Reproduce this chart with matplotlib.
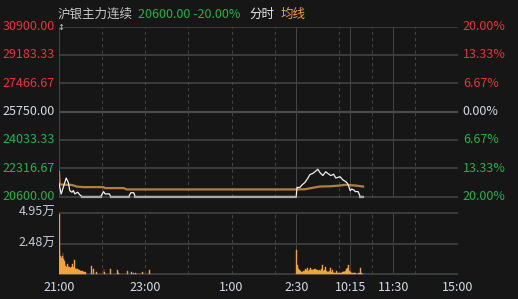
import numpy as np
import matplotlib

matplotlib.use("Agg")
import matplotlib.pyplot as plt

plt.rcParams["font.family"] = ["Noto Sans CJK SC", "DejaVu Sans"]

W, H = 518, 299
BG = "#161616"
GRID = "#444444"
HGRID = "#3a3a3a"
RED = "#e8333c"
GREEN = "#1db54a"
NEUTRAL = "#d4dce6"
VOL_C = "#f2a33a"
AVG_C = "#b2803a"

# price axis levels (left labels) and percent labels (right)
prev_close = 25750.0
price_levels = [30900.00, 29183.33, 27466.67, 25750.00, 24033.33, 22316.67, 20600.00]
pct_labels = ["20.00%", "13.33%", "6.67%", "0.00%", "6.67%", "13.33%", "20.00%"]
vol_levels = [49500, 24750, 0]
vol_labels = ["4.95万", "2.48万"]

# trading-minute index: 21:00-2:30 (0-330), 9:00-10:15 (330-405),
# 10:30-11:30 (405-465), 13:30-15:00 (465-555)
tick_pos = [0, 120, 240, 330, 405, 465, 555]
tick_labels = ["21:00", "23:00", "1:00", "2:30", "10:15", "11:30", "15:00"]
dashed_pos = [60, 120, 180, 240, 300, 390, 435, 495]
solid_pos = [0, 330, 405, 465, 555]

# price line (minute, price)
price_min = [0, 3, 10, 13, 15, 18, 20, 22, 26, 29, 32, 58, 62, 64, 70, 72, 97, 100, 104, 106, 330,
             331, 335, 338, 342, 346, 349, 353, 356, 360, 363, 367, 371, 374, 378, 382, 385, 391,
             395, 399, 402, 405, 407, 410, 412, 416, 419, 423]
price_val = [21400, 20750, 21720, 21450, 20960, 20860, 20960, 20760, 20860, 20700, 20600, 20600,
             20900, 20760, 20760, 20600, 20600, 20830, 20830, 20600, 20600,
             21150, 21150, 21300, 21450, 21700, 21930, 22000, 22100, 22250, 22050, 21870, 22100,
             22000, 21870, 21950, 21720, 21800, 21600, 21500, 21350, 20950, 21050, 21000, 20900,
             20900, 20600, 20600]

# average line (minute, price)
avg_min = [0, 1, 18, 25, 34, 62, 64, 90, 94, 330, 342, 353, 363, 377, 391, 398, 412, 423]
avg_val = [22100, 21330, 21300, 21200, 21170, 21170, 21110, 21110, 21030, 21030, 21040, 21130,
           21206, 21220, 21267, 21310, 21267, 21206]

# volume: opening minutes 0..36, then sparse spikes
vol_open = [48500, 19400, 15000, 13200, 15000, 17000, 12000, 10600, 8000, 7000, 6100, 8000, 6500,
            5800, 6100, 5000, 5500, 6100, 8000, 4700, 6000, 11400, 4700, 5000, 4500, 4200, 3500,
            3500, 3500, 3100, 2800, 2600, 2400, 2600, 2300, 2100, 1600]
night_spike_min = [45, 47, 52, 62, 63, 71, 81, 82, 95, 100, 103, 106, 108, 112, 116, 125]
night_spike_vol = [6600, 4200, 1900, 4200, 2100, 4200, 3500, 1400, 3100, 1900, 1300, 1300, 1200,
                   1200, 2100, 3500]
# minutes 330..423
vol_day = [19400, 7400, 5600, 4500, 3700, 2400, 2000, 1800, 1600, 2200, 3000, 2500, 4000, 2800,
           3300, 4800, 2600, 3000, 3500, 5200, 4000, 3200, 3800, 4200, 3600, 4200, 4000, 3000,
           3300, 3500, 3100, 3300, 3800, 3100, 3400, 4000, 7400, 2900, 3000, 3500, 6100, 2600,
           2400, 2000, 1800, 2200, 3000, 5000, 2300, 1800, 3500, 1500, 1900, 1500, 1400, 2600,
           1300, 1200, 1100, 1000, 1400, 1200, 1300, 1100, 1900, 1600, 3100, 2000, 2600, 4000,
           3500, 5200, 7400, 3500, 2400, 1600, 1300, 1100, 1000, 900, 800, 900, 800, 700, 700,
           700, 800, 900, 1200, 5200, 1000, 700, 600, 500]
# thin limit-lock volume: (start minute, end minute, volume)
lock_start, lock_end, lock_vol = 37, 330, 450


def fx(px):
    return px / W


def fy(py):
    return 1 - py / H


fig = plt.figure(figsize=(W / 100, H / 100), dpi=100, facecolor=BG)

# price panel: ylim padded 2px below limit price
ax = fig.add_axes([fx(59), fy(198.5), fx(458) - fx(59), fy(26.5) - fy(198.5)], facecolor=BG)
ax.set_xlim(0, 555)
ax.set_ylim(20480, 30900)
ax.axis("off")

grid_lv = [lv for lv in price_levels if lv != prev_close]
ax.hlines(grid_lv, 0, 555, colors=HGRID, lw=1.45, zorder=1)
ax.hlines(prev_close, 0, 555, colors="#4c4c4c", lw=1.6, zorder=1)
ax.vlines(dashed_pos, 20600, 30900, colors=GRID, lw=0.75, linestyles=(0, (3, 3)), zorder=1)
ax.vlines(solid_pos, 20600, 30900, colors=GRID, lw=0.75, zorder=1)

pm = np.array(price_min)
pv = np.array(price_val, dtype=float)
ax.plot(pm, pv, color="#f0f0f0", lw=0.9, zorder=3)
locked = np.where(pv <= 20600, pv, np.nan)
ax.plot(pm, locked, color="#a8a8a8", lw=1.6, zorder=4)
ax.plot(avg_min, avg_val, color=AVG_C, lw=1.6, zorder=2)

# volume panel (ylim padded so the top/bottom grid lines are not clipped)
vx = fig.add_axes([fx(59), fy(276.5), fx(458) - fx(59), fy(210.5) - fy(276.5)], facecolor=BG)
vx.set_xlim(0, 555)
vx.set_ylim(-1600, 51100)
vx.axis("off")
vx.hlines(vol_levels, 0, 555, colors=HGRID, lw=1.45, zorder=2.5)
vx.vlines(dashed_pos, 0, 49500, colors=GRID, lw=0.75, linestyles=(0, (3, 3)), zorder=1)
vx.vlines(solid_pos, 0, 49500, colors=GRID, lw=0.75, zorder=1)

vx.bar(np.arange(len(vol_open)), vol_open, width=1.0, align="edge", color=VOL_C, lw=0.3,
       edgecolor=VOL_C, zorder=3)
vx.bar(night_spike_min, night_spike_vol, width=1.0, align="edge", color=VOL_C, lw=0.3,
       edgecolor=VOL_C, zorder=3)
vx.bar(330 + np.arange(len(vol_day)), vol_day, width=1.0, align="edge", color=VOL_C, lw=0.3,
       edgecolor=VOL_C, zorder=3)
vx.bar(lock_start, lock_vol, width=lock_end - lock_start, align="edge", color=VOL_C, lw=0,
       zorder=2)

# left / right price labels
trans_l = ax.get_yaxis_transform()
for lv, pl in zip(price_levels, pct_labels):
    c = RED if lv > prev_close else (GREEN if lv < prev_close else NEUTRAL)
    ax.text(-0.01, lv, f"{lv:.2f}", transform=trans_l, ha="right", va="center",
            fontsize=9, color=c)
    ax.text(1.012, lv, pl, transform=trans_l, ha="left", va="center", fontsize=9, color=c)

trans_v = vx.get_yaxis_transform()
for lv, lb in zip(vol_levels, vol_labels):
    vx.text(-0.01, lv, lb, transform=trans_v, ha="right", va="center", fontsize=9,
            color="#c4ccd6")

for p, lb in zip(tick_pos, tick_labels):
    vx.text(p, -10400, lb, ha="center", va="center", fontsize=9, color="#d4dce6")

# header
fig.text(fx(58), fy(14), "沪银主力连续", ha="left", va="center", fontsize=9, color="#c8c8c8")
fig.text(fx(138), fy(14), "20600.00 -20.00%", ha="left", va="center", fontsize=9, color=GREEN)
fig.text(fx(249), fy(14), "分时", ha="left", va="center", fontsize=9, color="#e6e6e6")
fig.text(fx(281), fy(14), "均线", ha="left", va="center", fontsize=9, color="#e8a13a")
fig.text(fx(61), fy(28), "↕", ha="center", va="center", fontsize=6, color="#c8c8c8",
         family="DejaVu Sans")

fig.savefig("out.png", dpi=100, facecolor=BG)
